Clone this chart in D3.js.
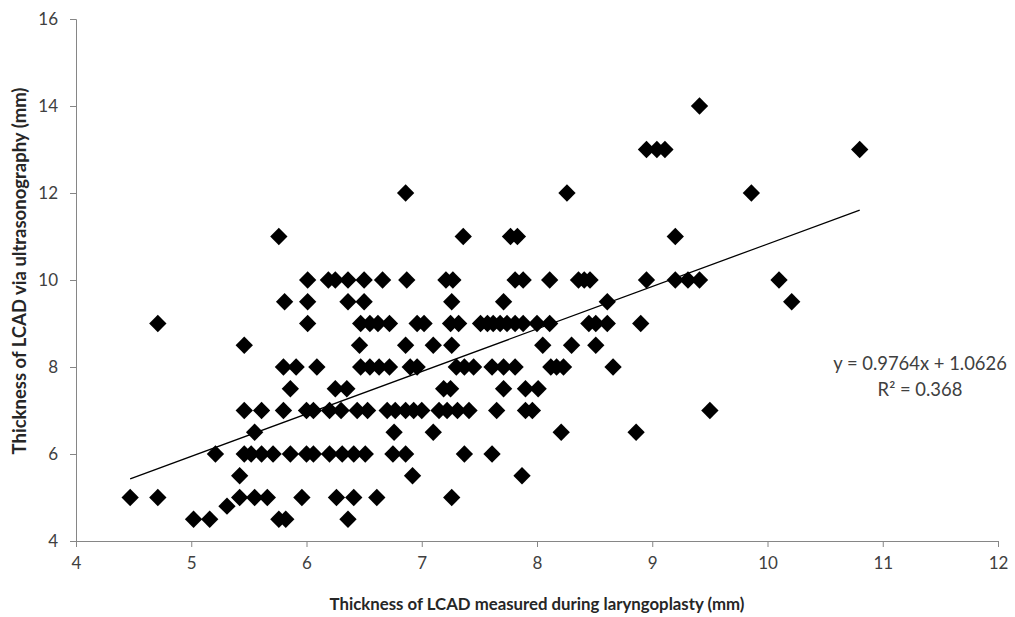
<!DOCTYPE html>
<html>
<head>
<meta charset="utf-8">
<script src="https://cdn.jsdelivr.net/npm/d3@7"></script>
<style>
  body { margin: 0; background: #fff; }
  text { font-family: Lato, "Open Sans", sans-serif; }
</style>
</head>
<body>
<div id="chartContainer"></div>
<script>
const width = 1015;
const height = 617;
const margin = { top: 19, right: 17, bottom: 76, left: 76 };

// y level of each row of points (ultrasonography, mm)
const rowLevels = [4.5, 4.8, 5, 5.5, 6, 6.5, 7, 7.5, 8, 8.5, 9, 9.5, 10, 11, 12, 13, 14];

// x values (laryngoplasty, mm) for each row above
const rowValues = [
  [5.02, 5.16, 5.76, 5.82, 6.36],
  [5.31],
  [4.47, 4.71, 5.42, 5.55, 5.66, 5.96, 6.26, 6.41, 6.61, 7.26],
  [5.42, 6.92, 7.87],
  [5.21, 5.46, 5.52, 5.61, 5.71, 5.86, 6.0, 6.06, 6.2, 6.31, 6.41, 6.51, 6.75, 6.86, 7.37, 7.61],
  [5.55, 6.76, 7.1, 8.21, 8.86],
  [5.46, 5.61, 5.8, 6.0, 6.06, 6.2, 6.3, 6.44, 6.53, 6.7, 6.77, 6.86, 6.93, 7.0, 7.15, 7.22, 7.31, 7.41, 7.65, 7.9, 7.96, 9.5],
  [5.86, 6.25, 6.35, 7.19, 7.25, 7.71, 7.9, 8.01],
  [5.8, 5.91, 6.09, 6.47, 6.55, 6.63, 6.72, 6.9, 6.96, 7.3, 7.37, 7.45, 7.61, 7.71, 7.81, 8.12, 8.17, 8.23, 8.66],
  [5.46, 6.46, 6.86, 7.1, 7.26, 8.05, 8.3, 8.51],
  [4.71, 6.01, 6.47, 6.55, 6.62, 6.72, 6.96, 7.02, 7.25, 7.32, 7.51, 7.57, 7.62, 7.68, 7.74, 7.81, 7.88, 8.0, 8.11, 8.45, 8.51, 8.61, 8.9],
  [5.81, 6.01, 6.36, 6.5, 7.26, 7.71, 8.61, 10.21],
  [6.01, 6.19, 6.25, 6.36, 6.5, 6.66, 6.87, 7.21, 7.27, 7.81, 7.88, 8.11, 8.36, 8.41, 8.46, 8.95, 9.2, 9.31, 9.41, 10.1],
  [5.76, 7.36, 7.77, 7.83, 9.2],
  [6.86, 8.26, 9.86],
  [8.95, 9.04, 9.11, 10.8],
  [9.41]
];

const xTicks = [4, 5, 6, 7, 8, 9, 10, 11, 12];
const yTicks = [4, 6, 8, 10, 12, 14, 16];

// linear trendline from the chart
const slope = 0.9764;
const intercept = 1.0626;
const equationLines = ["y = 0.9764x + 1.0626", "R² = 0.368"];

const points = rowLevels.flatMap((yv, i) => rowValues[i].map(xv => ({ x: xv, y: yv })));

const x = d3.scaleLinear().domain([4, 12]).range([margin.left, width - margin.right]);
const y = d3.scaleLinear().domain([4, 16]).range([height - margin.bottom, margin.top]);

const svg = d3.select("#chartContainer")
    .append("svg")
    .attr("width", width)
    .attr("height", height);

// axes
const axisColor = "#868686";

const xAxis = svg.append("g")
    .attr("transform", `translate(0,${y(4)})`)
    .call(d3.axisBottom(x).tickValues(xTicks).tickSize(6).tickPadding(10).tickFormat(d3.format("d")));

const yAxis = svg.append("g")
    .attr("transform", `translate(${x(4)},0)`)
    .call(d3.axisLeft(y).tickValues(yTicks).tickSize(6).tickPadding(12).tickFormat(d3.format("d")));

[xAxis, yAxis].forEach(g => {
  g.select(".domain").attr("stroke", axisColor).attr("stroke-width", 1);
  g.selectAll(".tick line").attr("stroke", axisColor);
  g.selectAll(".tick text")
      .attr("fill", "#404040")
      .style("font-size", "17px")
      .style("font-family", "Lato, sans-serif");
});

// trendline
const xExtent = d3.extent(points, d => d.x);
svg.append("line")
    .attr("x1", x(xExtent[0]))
    .attr("y1", y(slope * xExtent[0] + intercept))
    .attr("x2", x(xExtent[1]))
    .attr("y2", y(slope * xExtent[1] + intercept))
    .attr("stroke", "#000")
    .attr("stroke-width", 1.3);

// diamond markers
const diamond = d3.symbol().type(d3.symbolSquare).size(150);

svg.append("g")
    .selectAll("path")
    .data(points)
    .enter()
    .append("path")
    .attr("d", diamond)
    .attr("transform", d => `translate(${x(d.x)},${y(d.y)}) rotate(45)`)
    .attr("fill", "#000");

// equation
svg.append("text")
    .attr("x", 920)
    .attr("y", 370)
    .attr("text-anchor", "middle")
    .attr("fill", "#404040")
    .style("font-size", "18.4px")
    .selectAll("tspan")
    .data(equationLines)
    .enter()
    .append("tspan")
    .attr("x", 920)
    .attr("dy", (d, i) => i === 0 ? 0 : "1.4em")
    .text(d => d);

// axis titles
svg.append("text")
    .attr("x", 537)
    .attr("y", 610)
    .attr("text-anchor", "middle")
    .attr("fill", "#262626")
    .style("font-size", "16.8px")
    .style("font-weight", "bold")
    .text("Thickness of LCAD measured during laryngoplasty (mm)");

svg.append("text")
    .attr("transform", `translate(26,${271}) rotate(-90)`)
    .attr("text-anchor", "middle")
    .attr("fill", "#262626")
    .style("font-size", "18.5px")
    .style("font-weight", "bold")
    .text("Thickness of LCAD via ultrasonography  (mm)");
</script>
</body>
</html>
